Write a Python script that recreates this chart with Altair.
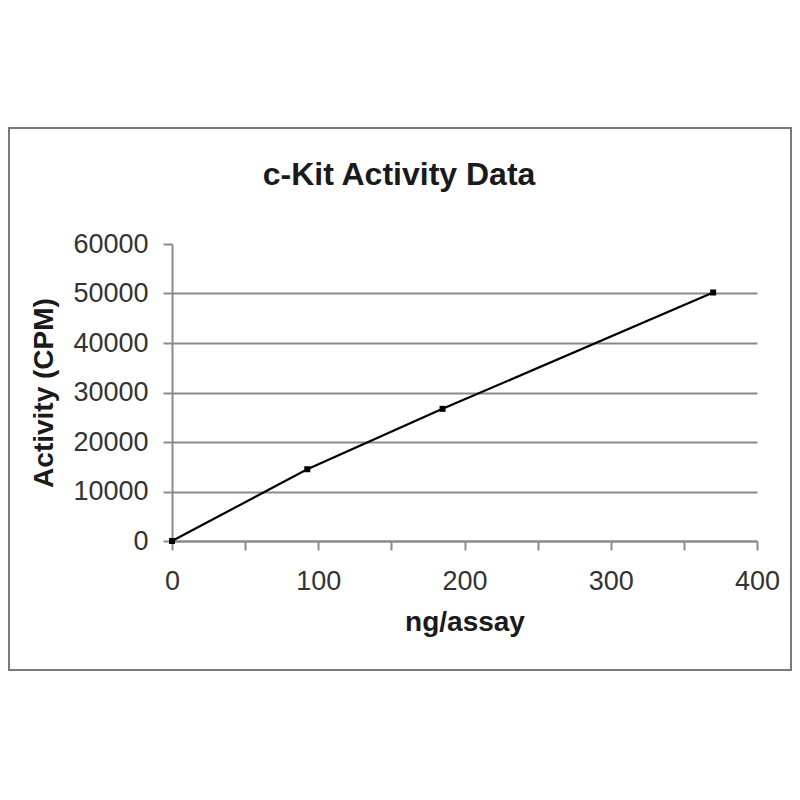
import altair as alt
import pandas as pd

# data
ng_per_assay = [0, 92.5, 185, 370]
activity_cpm = [0, 14500, 26700, 50200]
x_ticks = [0, 50, 100, 150, 200, 250, 300, 350, 400]
y_ticks = [0, 10000, 20000, 30000, 40000, 50000, 60000]
title_text = ["c-Kit Activity Data"]

FONT = "Liberation Sans"
GREY = "#8a8a8a"

df = pd.DataFrame({"ng": ng_per_assay, "cpm": activity_cpm})
tdf = pd.DataFrame({"t": title_text})

W, H = 585, 297

x_enc = alt.X(
    "ng:Q",
    scale=alt.Scale(domain=[0, 400], nice=False),
    axis=alt.Axis(
        title="ng/assay",
        values=x_ticks,
        labelExpr="datum.value % 100 == 0 ? datum.label : ''",
        grid=False,
        tickSize=9,
        tickColor=GREY,
        tickWidth=2,
        domainColor=GREY,
        domainWidth=2,
        labelFont=FONT,
        labelFontSize=27,
        labelColor="#333333",
        labelPadding=18,
        labelFlush=False,
        labelOverlap=False,
        titleFont=FONT,
        titleFontSize=28,
        titleFontWeight="bold",
        titleColor="#1a1a1a",
        titlePadding=14,
    ),
)
y_enc = alt.Y(
    "cpm:Q",
    scale=alt.Scale(domain=[0, 60000], nice=False),
    axis=alt.Axis(
        title="Activity (CPM)",
        values=y_ticks,
        format="d",
        grid=True,
        gridColor=GREY,
        gridWidth=2,
        gridOpacity={"condition": {"test": "datum.value === 60000", "value": 0}, "value": 1},
        tickSize=9,
        tickColor=GREY,
        tickWidth=2,
        domainColor=GREY,
        domainWidth=2,
        labelFont=FONT,
        labelFontSize=27,
        labelColor="#333333",
        labelPadding=15,
        labelOverlap=False,
        titleFont=FONT,
        titleFontSize=28,
        titleFontWeight="bold",
        titleColor="#1a1a1a",
        titlePadding=14,
    ),
)

line = alt.Chart(df).mark_line(
    color="black",
    strokeWidth=2.2,
    point=alt.OverlayMarkDef(shape="square", size=36, filled=True, color="black"),
).encode(x=x_enc, y=y_enc)

title = alt.Chart(tdf).mark_text(
    font=FONT, fontSize=32, fontWeight="bold", color="#1a1a1a",
    align="center", baseline="alphabetic",
).encode(text="t:N", x=alt.value(227), y=alt.value(-59))

frame = alt.Chart(tdf).mark_rect(
    fill="white", fillOpacity=0, stroke="#7a7a7a", strokeWidth=2,
).encode(x=alt.value(-163), x2=alt.value(619), y=alt.value(-116), y2=alt.value(426))

chart = alt.layer(frame, line, title).properties(
    width=W, height=H,
    padding={"left": 0, "top": 119, "right": 0, "bottom": 0},
).configure_view(strokeWidth=0)

chart.save("out.html", embed_options={"renderer": "svg", "actions": False})
